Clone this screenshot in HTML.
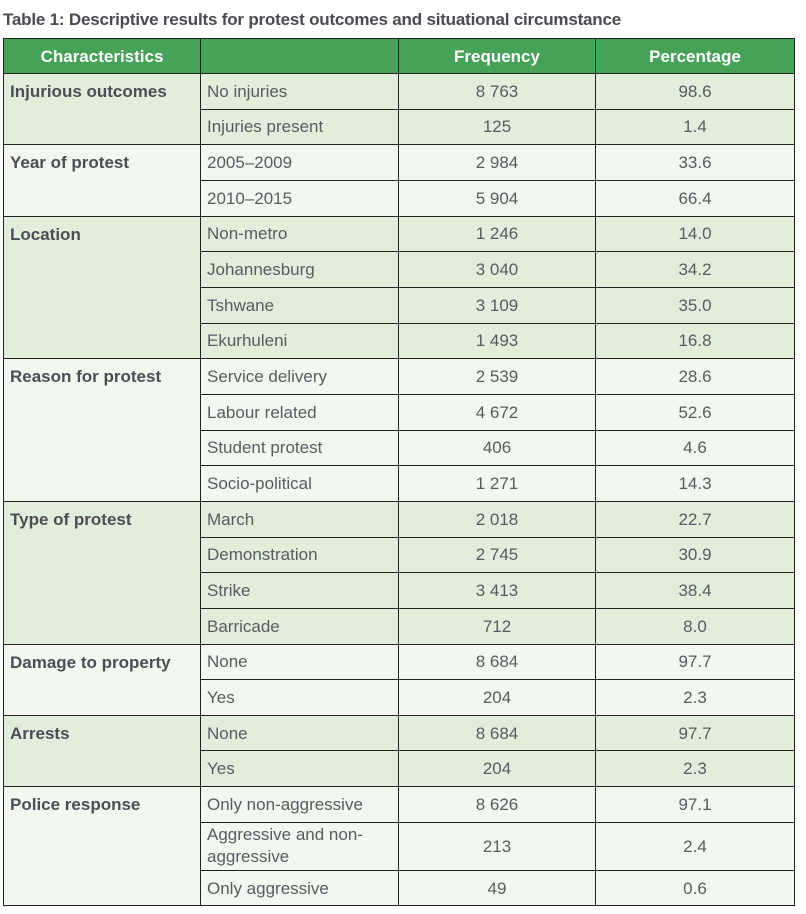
<!DOCTYPE html>
<html><head><meta charset="utf-8"><style>
body{margin:0;width:806px;height:914px;background:#fff;font-family:"Liberation Sans",Arial,sans-serif;overflow:hidden;position:relative}
#title{position:absolute;left:3px;top:10px;font-size:17px;font-weight:bold;color:#4a4a52;white-space:nowrap;letter-spacing:-0.2px}
table{position:absolute;left:3px;top:38px;border-collapse:collapse;table-layout:fixed;width:791px}
td,th{border:1.5px solid #222;font-size:17px;color:#5a5a60;padding:0 0 0 6px;height:34.67px;line-height:19px;vertical-align:middle}
th{background:#45a257;color:#fff;font-weight:bold;text-align:center;height:34px;padding:0}
td.c{text-align:left;font-weight:bold;vertical-align:top;padding-top:8px;color:#4d4d55}
td.n{text-align:center;padding:0}
tr.g td{background:#e2eedc}
tr.l td{background:#f2f8ef}
td.dbl{height:47px;line-height:22px}
</style></head><body>
<div id="title">Table 1: Descriptive results for protest outcomes and situational circumstance</div>
<table>
<colgroup><col style="width:197px"><col style="width:198px"><col style="width:197px"><col style="width:199px"></colgroup>
<tr><th>Characteristics</th><th></th><th>Frequency</th><th>Percentage</th></tr>

<tr class="g"><td class="c" rowspan="2">Injurious outcomes</td><td>No injuries</td><td class="n">8 763</td><td class="n">98.6</td></tr>
<tr class="g"><td>Injuries present</td><td class="n">125</td><td class="n">1.4</td></tr>

<tr class="l"><td class="c" rowspan="2">Year of protest</td><td>2005–2009</td><td class="n">2 984</td><td class="n">33.6</td></tr>
<tr class="l"><td>2010–2015</td><td class="n">5 904</td><td class="n">66.4</td></tr>

<tr class="g"><td class="c" rowspan="4">Location</td><td>Non-metro</td><td class="n">1 246</td><td class="n">14.0</td></tr>
<tr class="g"><td>Johannesburg</td><td class="n">3 040</td><td class="n">34.2</td></tr>
<tr class="g"><td>Tshwane</td><td class="n">3 109</td><td class="n">35.0</td></tr>
<tr class="g"><td>Ekurhuleni</td><td class="n">1 493</td><td class="n">16.8</td></tr>

<tr class="l"><td class="c" rowspan="4">Reason for protest</td><td>Service delivery</td><td class="n">2 539</td><td class="n">28.6</td></tr>
<tr class="l"><td>Labour related</td><td class="n">4 672</td><td class="n">52.6</td></tr>
<tr class="l"><td>Student protest</td><td class="n">406</td><td class="n">4.6</td></tr>
<tr class="l"><td>Socio-political</td><td class="n">1 271</td><td class="n">14.3</td></tr>

<tr class="g"><td class="c" rowspan="4">Type of protest</td><td>March</td><td class="n">2 018</td><td class="n">22.7</td></tr>
<tr class="g"><td>Demonstration</td><td class="n">2 745</td><td class="n">30.9</td></tr>
<tr class="g"><td>Strike</td><td class="n">3 413</td><td class="n">38.4</td></tr>
<tr class="g"><td>Barricade</td><td class="n">712</td><td class="n">8.0</td></tr>

<tr class="l"><td class="c" rowspan="2">Damage to property</td><td>None</td><td class="n">8 684</td><td class="n">97.7</td></tr>
<tr class="l"><td>Yes</td><td class="n">204</td><td class="n">2.3</td></tr>

<tr class="g"><td class="c" rowspan="2">Arrests</td><td>None</td><td class="n">8 684</td><td class="n">97.7</td></tr>
<tr class="g"><td>Yes</td><td class="n">204</td><td class="n">2.3</td></tr>

<tr class="l"><td class="c" rowspan="3">Police response</td><td>Only non-aggressive</td><td class="n">8 626</td><td class="n">97.1</td></tr>
<tr class="l"><td class="dbl">Aggressive and non-<br>aggressive</td><td class="n">213</td><td class="n">2.4</td></tr>
<tr class="l"><td>Only aggressive</td><td class="n">49</td><td class="n">0.6</td></tr>
</table>
</body></html>
